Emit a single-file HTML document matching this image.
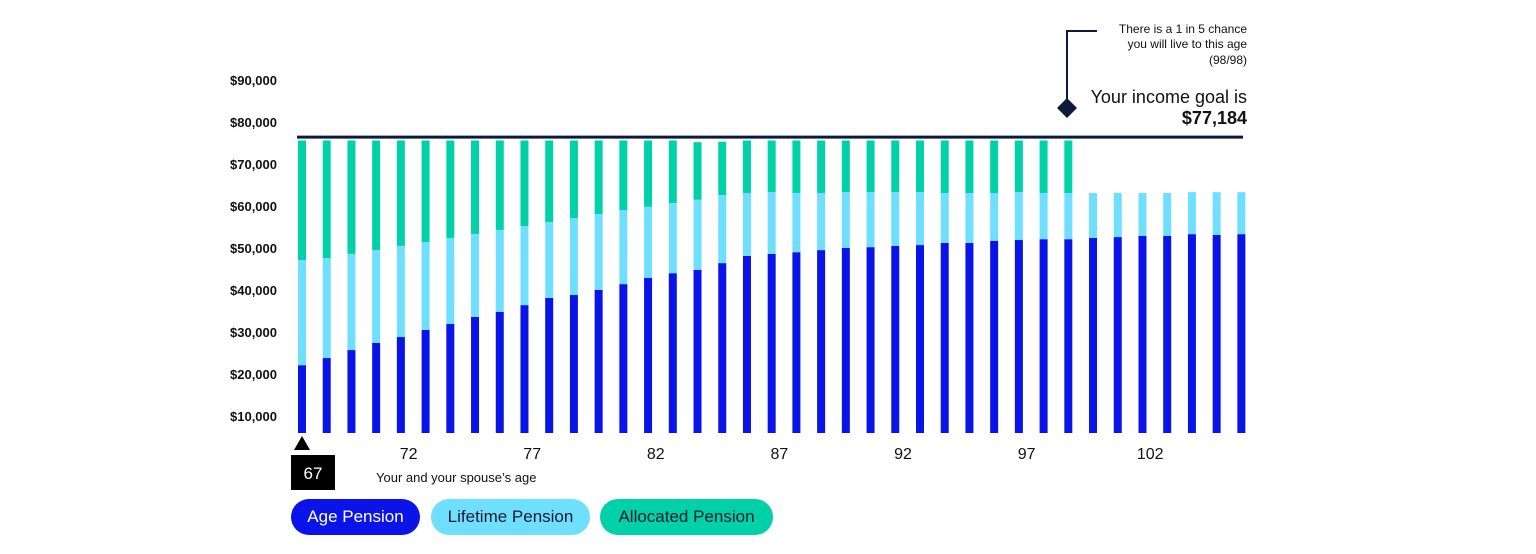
<!DOCTYPE html>
<html><head><meta charset="utf-8">
<style>
body{margin:0;width:1536px;height:554px;background:#fff;overflow:hidden;font-family:"Liberation Sans",sans-serif}
svg{display:block}
.pill{position:absolute;top:499px;height:36px;border-radius:18px;font-size:17px;line-height:36px;text-align:center}
</style></head><body>
<div style="position:relative;width:1536px;height:554px">
<svg id="chart" width="1536" height="554"></svg>
<div class="pill" style="left:291px;width:129px;background:#0a14e8;color:#fff">Age Pension</div>
<div class="pill" style="left:431px;width:159px;background:#6fdfff;color:#1a1a2e">Lifetime Pension</div>
<div class="pill" style="left:600px;width:173px;background:#00d1a9;color:#1a1a2e">Allocated Pension</div>
</div>
<script>
const ages=[];for(let a=67;a<=105;a++)ages.push(a);
const agePension=[22.1,23.8,25.7,27.4,28.8,30.5,31.9,33.6,34.8,36.4,38.1,38.8,40.0,41.4,42.9,44.0,44.8,46.4,48.1,48.6,49.0,49.5,50.0,50.2,50.5,50.7,51.2,51.2,51.7,51.9,52.1,52.1,52.4,52.6,52.9,52.9,53.3,53.1,53.3];
const lifetimePension=[25.0,23.8,22.9,22.1,21.7,20.9,20.5,19.7,19.5,18.8,18.1,18.3,18.1,17.6,16.9,16.7,16.7,16.2,15.0,14.7,14.1,13.6,13.3,13.1,12.8,12.6,11.9,11.9,11.4,11.4,11.0,11.0,10.7,10.5,10.2,10.2,10.0,10.2,10.0];
const allocatedPension=[28.5,28.0,27.0,26.1,25.1,24.2,23.2,22.3,21.3,20.4,19.4,18.5,17.5,16.6,15.8,14.9,13.7,12.7,12.5,12.3,12.5,12.5,12.3,12.3,12.3,12.3,12.5,12.5,12.5,12.3,12.5,12.5,0,0,0,0,0,0,0];
const yTicks=[10,20,30,40,50,60,70,80,90];
const xTickAges=[72,77,82,87,92,97,102];
const goalValue=76.4;
const NS="http://www.w3.org/2000/svg";
const svg=document.getElementById('chart');
const y=v=>416-(v-10)*4.2;
const x=a=>302+(a-67)*24.72;
const base=433;
function mk(t,at){const e=document.createElementNS(NS,t);for(const k in at)e.setAttribute(k,at[k]);svg.appendChild(e);return e;}
yTicks.forEach(v=>{
 const t=mk('text',{x:277,y:y(v)+5,'font-size':13,'font-weight':'bold',fill:'#111','text-anchor':'end','font-family':'Liberation Sans'});
 t.textContent='$'+(v*1000).toLocaleString('en-US');
 
 
});
ages.forEach((a,i)=>{
 const cx=x(a);
 const s=[[agePension[i],'#0a14e8','bar-age-pension'],[lifetimePension[i],'#6fdfff','bar-lifetime-pension'],[allocatedPension[i],'#00d1a9','bar-allocated-pension']];
 let cum=0;let prevY=base;
 s.forEach(([v,c,n])=>{
  if(v<=0)return;
  cum+=v;const top=y(cum);
  const r=mk('rect',{x:cx-4,y:top,width:8,height:prevY-top,fill:c});
  
  
  prevY=top;
 });
});
const gl=mk('line',{x1:297,x2:1243,y1:y(goalValue),y2:y(goalValue),stroke:'#0d1b3a','stroke-width':3});


xTickAges.forEach(a=>{
 const t=mk('text',{x:x(a)-17,y:459,'font-size':16,fill:'#111','text-anchor':'middle','font-family':'Liberation Sans'});
 t.textContent=a;
 
 
});
const tri=mk('polygon',{points:'302,436 294,450 310,450',fill:'#000'});


const box=mk('rect',{x:291,y:455,width:44,height:35,fill:'#000'});


const bt=mk('text',{x:313,y:479,'font-size':17,fill:'#fff','text-anchor':'middle','font-family':'Liberation Sans'});
bt.textContent='67';


const xt=mk('text',{x:376,y:482,'font-size':13,fill:'#111','font-family':'Liberation Sans'});
xt.textContent='Your and your spouse\u2019s age';


const al=mk('polyline',{points:'1067,104 1067,31 1097,31',fill:'none',stroke:'#0d1b3a','stroke-width':2});


const dm=mk('polygon',{points:'1067,98 1077,108 1067,118 1057,108',fill:'#0d1b3a'});


[['There is a 1 in 5 chance',33,12,'normal'],['you will live to this age',48,12,'normal'],['(98/98)',64,12,'normal'],['Your income goal is',103,18,'normal'],['$77,184',124,18,'bold']].forEach(([s,yy,fs,fw])=>{
 const t=mk('text',{x:1247,y:yy,'font-size':fs,'font-weight':fw,fill:'#111','text-anchor':'end','font-family':'Liberation Sans'});
 t.textContent=s;
 
 
});
</script>
</body></html>
